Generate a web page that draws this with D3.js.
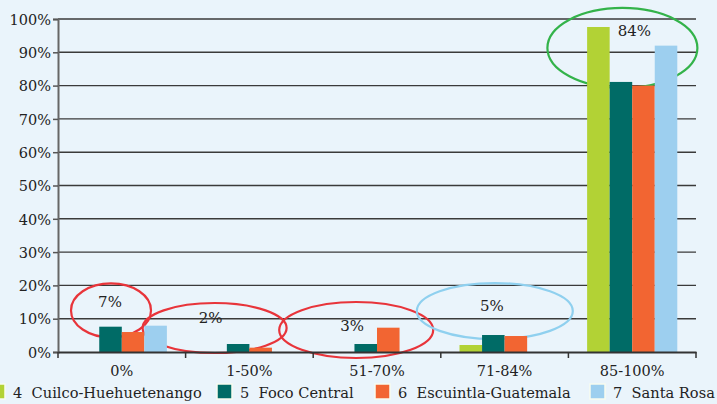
<!DOCTYPE html>
<html>
<head>
<meta charset="utf-8">
<script src="https://cdn.jsdelivr.net/npm/d3@7"></script>
<style>
  body { margin: 0; background: #eaf4fb; }
  svg { display: block; }
  text { font-family: "DejaVu Serif", "Liberation Serif", serif; fill: #222; }
</style>
</head>
<body>
<div id="chart"></div>
<script>
// data
const categories = ["0%", "1-50%", "51-70%", "71-84%", "85-100%"];
const seriesNames = ["4  Cuilco-Huehuetenango", "5  Foco Central", "6  Escuintla-Guatemala", "7  Santa Rosa"];
const cuilco = [0, 0, 0, 2.1, 97.6];
const foco = [7.6, 2.4, 2.4, 5.1, 81.1];
const escuintla = [6.0, 1.3, 7.3, 4.8, 80.0];
const santaRosa = [7.9, 0, 0, 0, 92.0];
const yTicks = [0, 10, 20, 30, 40, 50, 60, 70, 80, 90, 100];
const notes = ["7%", "2%", "3%", "5%", "84%"];

const colors = ["#b2d235", "#006b66", "#f26532", "#9dcfef"];

const svgWidth = 717, svgHeight = 404;
const margin = { top: 19, right: 21, bottom: 52, left: 58 };
const width = svgWidth - margin.left - margin.right;
const height = svgHeight - margin.top - margin.bottom;

const svg = d3.select("#chart").append("svg")
  .attr("width", svgWidth)
  .attr("height", svgHeight);

const chartGroup = svg.append("g")
  .attr("transform", `translate(${margin.left}, ${margin.top})`);

const allSeries = [cuilco, foco, escuintla, santaRosa];

const x0 = d3.scaleBand().domain(categories).range([0, width]);
const x1 = d3.scaleBand().domain(d3.range(4)).range([0, x0.bandwidth()]).paddingOuter(0.83);
const y = d3.scaleLinear().domain([0, 100]).range([height, 0]);

// gridlines
chartGroup.selectAll(".grid")
  .data(yTicks.slice(1))
  .enter()
  .append("line")
  .attr("x1", 0).attr("x2", width)
  .attr("y1", d => y(d)).attr("y2", d => y(d))
  .attr("stroke", "#3a3a3a")
  .attr("stroke-width", 1.4);

// y axis
const leftAxis = d3.axisLeft(y).tickValues(yTicks).tickSize(5).tickFormat(d => d + "%");
const yAxis = chartGroup.append("g").call(leftAxis);
yAxis.select(".domain").attr("stroke", "#666").attr("stroke-width", 2);
yAxis.selectAll(".tick line").attr("stroke", "#555").attr("stroke-width", 1.5);
yAxis.selectAll("text")
  .attr("x", -7)
  .attr("dy", "0.36em")
  .style("font-size", "14.5px")
  .style("font-family", "DejaVu Serif, serif")
  .attr("fill", "#222");

// annotation ellipses (behind bars), dx measured from the start of the band
const ellipses = [
  { cat: 0, dx: 53, cy: 12.5, rx: 40, ry: 27, color: "#e8343a" },
  { cat: 1, dx: 29, cy: 7.2, rx: 72, ry: 25, color: "#e8343a" },
  { cat: 2, dx: 43, cy: 6.6, rx: 77, ry: 28, color: "#e8343a" },
  { cat: 3, dx: 54, cy: 12.3, rx: 78, ry: 28, color: "#8fd0ef" },
  { cat: 4, dx: 54, cy: 91.3, rx: 75, ry: 40, color: "#33b34a" }
];
chartGroup.selectAll(".note-ellipse")
  .data(ellipses)
  .enter()
  .append("ellipse")
  .attr("cx", d => x0(categories[d.cat]) + d.dx)
  .attr("cy", d => y(d.cy))
  .attr("rx", d => d.rx)
  .attr("ry", d => d.ry)
  .attr("fill", "none")
  .attr("stroke", d => d.color)
  .attr("stroke-width", 2.2);

// bars
const groups = chartGroup.selectAll(".group")
  .data(categories)
  .enter()
  .append("g")
  .attr("transform", d => `translate(${x0(d)}, 0)`);

groups.selectAll("rect")
  .data((d, i) => allSeries.map((s, k) => ({ k: k, v: s[i] })))
  .enter()
  .append("rect")
  .attr("x", d => x1(d.k))
  .attr("width", x1.bandwidth())
  .attr("y", d => y(d.v))
  .attr("height", d => height - y(d.v))
  .attr("fill", d => colors[d.k]);

// x axis
const bottomAxis = d3.axisBottom(x0).tickSize(0).tickPadding(14);
const xAxis = chartGroup.append("g")
  .attr("transform", `translate(0, ${height})`)
  .call(bottomAxis);
xAxis.select(".domain").attr("stroke", "#333").attr("stroke-width", 2);
xAxis.selectAll("text")
  .style("font-size", "14.5px")
  .style("font-family", "DejaVu Serif, serif")
  .attr("fill", "#222");
xAxis.selectAll(".sep")
  .data(categories.concat(["end"]))
  .enter()
  .append("line")
  .attr("x1", (d, i) => i * x0.step()).attr("x2", (d, i) => i * x0.step())
  .attr("y1", 0).attr("y2", 6)
  .attr("stroke", "#333")
  .attr("stroke-width", 1.5);

// annotation labels
const notePos = [
  { cat: 0, dx: 52, v: 13.5 },
  { cat: 1, dx: 25, v: 8.8 },
  { cat: 2, dx: 39, v: 6.2 },
  { cat: 3, dx: 51, v: 12.4 },
  { cat: 4, dx: 66, v: 94.8 }
];
chartGroup.selectAll(".note")
  .data(notes)
  .enter()
  .append("text")
  .attr("x", (d, i) => x0(categories[notePos[i].cat]) + notePos[i].dx)
  .attr("y", (d, i) => y(notePos[i].v))
  .attr("text-anchor", "middle")
  .style("font-size", "15px")
  .text(d => d);

// legend
const legendX = [-10, 217, 375, 590];
const legend = svg.selectAll(".legend")
  .data(seriesNames)
  .enter()
  .append("g")
  .attr("transform", (d, i) => `translate(${legendX[i]}, 384)`);

legend.append("rect")
  .attr("width", 15).attr("height", 15)
  .attr("fill", (d, i) => colors[i])
  .attr("stroke", "#f8fbf0")
  .attr("stroke-width", 1.5);

legend.append("text")
  .attr("x", 23)
  .attr("y", 14)
  .style("font-size", "14.6px")
  .attr("xml:space", "preserve")
  .text(d => d);
</script>
</body>
</html>
